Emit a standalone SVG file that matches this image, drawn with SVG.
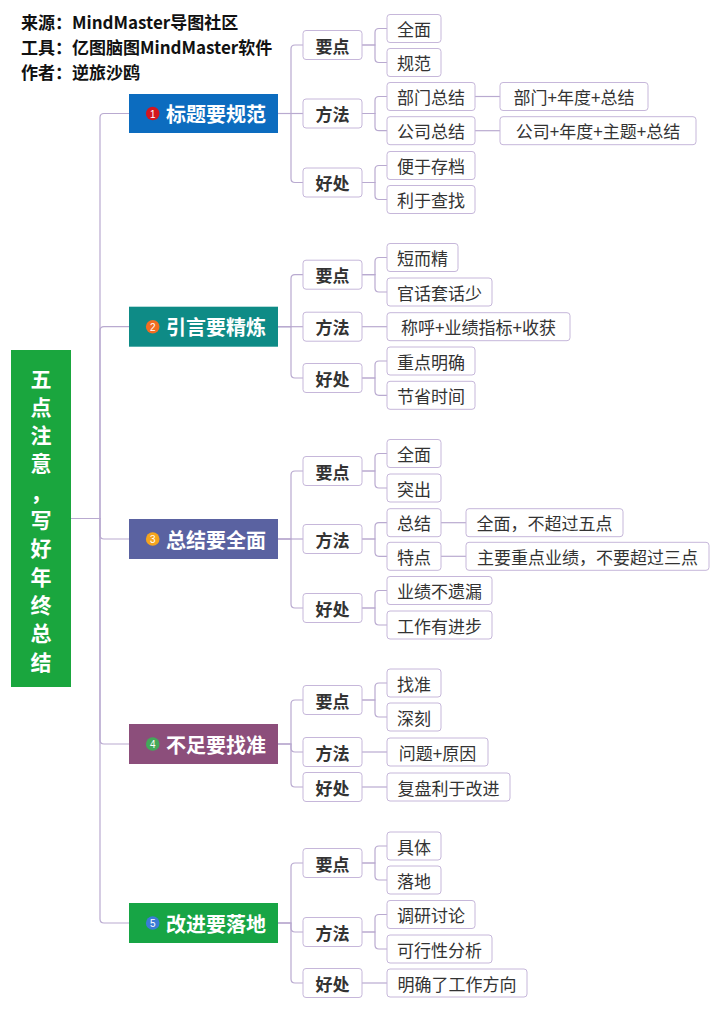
<svg xmlns="http://www.w3.org/2000/svg" width="720" height="1012" viewBox="0 0 720 1012">
<style>
text{font-family:"Noto Sans CJK SC","Noto Sans",sans-serif;dominant-baseline:central}
.hdr{font-size:17px;font-weight:bold;fill:#111}
.root{font-size:21px;font-weight:bold;fill:#fff;text-anchor:middle}
.main text.t{font-size:20px;font-weight:bold;fill:#fff}
.ic{font-size:10px;fill:#fff;text-anchor:middle;font-family:"Liberation Sans",sans-serif}
.l2 rect,.leaf rect{fill:#fff;stroke:#c6b7da;stroke-width:1}
.l2 text{font-size:17px;font-weight:bold;fill:#333;text-anchor:middle}
.leaf text{font-size:17px;fill:#333;text-anchor:middle}
#connectors path{fill:none;stroke:#b9aad0;stroke-width:1.2}
</style>
<rect width="720" height="1012" fill="#fff"/>
<g id="header">
<text class="hdr" x="21" y="21.5">来源：MindMaster导图社区</text>
<text class="hdr" x="21" y="46.5">工具：亿图脑图MindMaster软件</text>
<text class="hdr" x="21" y="71">作者：逆旅沙鸥</text>
</g>
<g id="connectors">
<path d="M71 518.5H100V117.5Q100 113.5 104 113.5H129"/>
<path d="M71 518.5H100V330.7Q100 326.7 104 326.7H129"/>
<path d="M71 518.5H100V535Q100 539 104 539H129"/>
<path d="M71 518.5H100V740Q100 744 104 744H129"/>
<path d="M71 518.5H100V919Q100 923 104 923H129"/>
<path d="M278 113.5H291V49Q291 45 295 45H303"/>
<path d="M278 113.5H303"/>
<path d="M278 113.5H291V178.5Q291 182.5 295 182.5H303"/>
<path d="M362 45H375V32.5Q375 28.5 379 28.5H387"/>
<path d="M362 45H375V58.5Q375 62.5 379 62.5H387"/>
<path d="M362 113.5H375V100.5Q375 96.5 379 96.5H387"/>
<path d="M362 113.5H375V126.7Q375 130.7 379 130.7H387"/>
<path d="M362 182.5H375V169.5Q375 165.5 379 165.5H387"/>
<path d="M362 182.5H375V195.5Q375 199.5 379 199.5H387"/>
<path d="M475 96.5H500"/>
<path d="M475 130.7H500"/>
<path d="M278 326.7H291V278.7Q291 274.7 295 274.7H303"/>
<path d="M278 326.7H303"/>
<path d="M278 326.7H291V374Q291 378 295 378H303"/>
<path d="M362 274.7H375V261.5Q375 257.5 379 257.5H387"/>
<path d="M362 274.7H375V288Q375 292 379 292H387"/>
<path d="M362 326.7H387"/>
<path d="M362 378H375V365Q375 361 379 361H387"/>
<path d="M362 378H375V391.3Q375 395.3 379 395.3H387"/>
<path d="M278 539H291V475Q291 471 295 471H303"/>
<path d="M278 539H303"/>
<path d="M278 539H291V604Q291 608 295 608H303"/>
<path d="M362 471H375V457.5Q375 453.5 379 453.5H387"/>
<path d="M362 471H375V484Q375 488 379 488H387"/>
<path d="M362 539H375V526.7Q375 522.7 379 522.7H387"/>
<path d="M362 539H375V552.3Q375 556.3 379 556.3H387"/>
<path d="M362 608H375V594.5Q375 590.5 379 590.5H387"/>
<path d="M362 608H375V621Q375 625 379 625H387"/>
<path d="M441 522.7H466"/>
<path d="M441 556.3H466"/>
<path d="M278 744H291V704Q291 700 295 700H303"/>
<path d="M278 744H291V748Q291 752 295 752H303"/>
<path d="M278 744H291V783Q291 787 295 787H303"/>
<path d="M362 700H375V687Q375 683 379 683H387"/>
<path d="M362 700H375V713Q375 717 379 717H387"/>
<path d="M362 752H387"/>
<path d="M362 787H387"/>
<path d="M278 923H291V867Q291 863 295 863H303"/>
<path d="M278 923H291V928Q291 932 295 932H303"/>
<path d="M278 923H291V979Q291 983 295 983H303"/>
<path d="M362 863H375V850Q375 846 379 846H387"/>
<path d="M362 863H375V876Q375 880 379 880H387"/>
<path d="M362 932H375V918.5Q375 914.5 379 914.5H387"/>
<path d="M362 932H375V945Q375 949 379 949H387"/>
<path d="M362 983H387"/>
</g>
<g id="root">
<rect x="11" y="350" width="60" height="337" fill="#1aa63e"/>
<text class="root"><tspan x="41" y="377.5">五</tspan><tspan x="41" y="406">点</tspan><tspan x="41" y="434">注</tspan><tspan x="41" y="462.3">意</tspan><tspan x="41" y="491">，</tspan><tspan x="41" y="519">写</tspan><tspan x="41" y="547.3">好</tspan><tspan x="41" y="575.7">年</tspan><tspan x="41" y="603.7">终</tspan><tspan x="41" y="631.7">总</tspan><tspan x="41" y="660.5">结</tspan></text>
</g>
<g id="m1" class="main"><rect x="129" y="94" width="149" height="39" fill="#0c6cbf"/><circle cx="152.7" cy="113.5" r="6.8" fill="#d3161f"/><text class="ic" x="152.7" y="114">1</text><text class="t" x="166" y="113.5">标题要规范</text></g>
<g id="m2" class="main"><rect x="129" y="306.7" width="149" height="40" fill="#0e8b86"/><circle cx="152.7" cy="326.7" r="6.8" fill="#f26d21"/><text class="ic" x="152.7" y="327.2">2</text><text class="t" x="166" y="326.7">引言要精炼</text></g>
<g id="m3" class="main"><rect x="129" y="519" width="149" height="40" fill="#5a62a1"/><circle cx="152.7" cy="539" r="6.8" fill="#f5a41d"/><text class="ic" x="152.7" y="539.5">3</text><text class="t" x="166" y="539">总结要全面</text></g>
<g id="m4" class="main"><rect x="129" y="724" width="149" height="40" fill="#8c4e7b"/><circle cx="152.7" cy="744" r="6.8" fill="#43a85a"/><text class="ic" x="152.7" y="744.5">4</text><text class="t" x="166" y="744">不足要找准</text></g>
<g id="m5" class="main"><rect x="129" y="903" width="149" height="40" fill="#17a545"/><circle cx="152.7" cy="923" r="6.8" fill="#3a7bd6"/><text class="ic" x="152.7" y="923.5">5</text><text class="t" x="166" y="923">改进要落地</text></g>
<g id="s1-k" class="l2"><rect x="303" y="30.5" width="59" height="29" rx="3"/><text x="332.5" y="45">要点</text></g>
<g id="s1-f" class="l2"><rect x="303" y="99" width="59" height="29" rx="3"/><text x="332.5" y="113.5">方法</text></g>
<g id="s1-h" class="l2"><rect x="303" y="168" width="59" height="29" rx="3"/><text x="332.5" y="182.5">好处</text></g>
<g id="s2-k" class="l2"><rect x="303" y="260.2" width="59" height="29" rx="3"/><text x="332.5" y="274.7">要点</text></g>
<g id="s2-f" class="l2"><rect x="303" y="312.2" width="59" height="29" rx="3"/><text x="332.5" y="326.7">方法</text></g>
<g id="s2-h" class="l2"><rect x="303" y="363.5" width="59" height="29" rx="3"/><text x="332.5" y="378">好处</text></g>
<g id="s3-k" class="l2"><rect x="303" y="456.5" width="59" height="29" rx="3"/><text x="332.5" y="471">要点</text></g>
<g id="s3-f" class="l2"><rect x="303" y="524.5" width="59" height="29" rx="3"/><text x="332.5" y="539">方法</text></g>
<g id="s3-h" class="l2"><rect x="303" y="593.5" width="59" height="29" rx="3"/><text x="332.5" y="608">好处</text></g>
<g id="s4-k" class="l2"><rect x="303" y="685.5" width="59" height="29" rx="3"/><text x="332.5" y="700">要点</text></g>
<g id="s4-f" class="l2"><rect x="303" y="737.5" width="59" height="29" rx="3"/><text x="332.5" y="752">方法</text></g>
<g id="s4-h" class="l2"><rect x="303" y="772.5" width="59" height="29" rx="3"/><text x="332.5" y="787">好处</text></g>
<g id="s5-k" class="l2"><rect x="303" y="848.5" width="59" height="29" rx="3"/><text x="332.5" y="863">要点</text></g>
<g id="s5-f" class="l2"><rect x="303" y="917.5" width="59" height="29" rx="3"/><text x="332.5" y="932">方法</text></g>
<g id="s5-h" class="l2"><rect x="303" y="968.5" width="59" height="29" rx="3"/><text x="332.5" y="983">好处</text></g>
<g id="s1-l1" class="leaf"><rect x="387" y="14.5" width="54" height="28" rx="3"/><text x="414" y="28.5">全面</text></g>
<g id="s1-l2" class="leaf"><rect x="387" y="48.5" width="54" height="28" rx="3"/><text x="414" y="62.5">规范</text></g>
<g id="s1-l3" class="leaf"><rect x="387" y="82.5" width="88" height="28" rx="3"/><text x="431" y="96.5">部门总结</text></g>
<g id="s1-l4" class="leaf"><rect x="387" y="116.7" width="88" height="28" rx="3"/><text x="431" y="130.7">公司总结</text></g>
<g id="s1-l5" class="leaf"><rect x="387" y="151.5" width="88" height="28" rx="3"/><text x="431" y="165.5">便于存档</text></g>
<g id="s1-l6" class="leaf"><rect x="387" y="185.5" width="88" height="28" rx="3"/><text x="431" y="199.5">利于查找</text></g>
<g id="s1-l7" class="leaf"><rect x="500" y="82.5" width="148" height="28" rx="3"/><text x="574" y="96.5">部门+年度+总结</text></g>
<g id="s1-l8" class="leaf"><rect x="500" y="116.7" width="196" height="28" rx="3"/><text x="598" y="130.7">公司+年度+主题+总结</text></g>
<g id="s2-l1" class="leaf"><rect x="387" y="243.5" width="71" height="28" rx="3"/><text x="422.5" y="257.5">短而精</text></g>
<g id="s2-l2" class="leaf"><rect x="387" y="278" width="105" height="28" rx="3"/><text x="439.5" y="292">官话套话少</text></g>
<g id="s2-l3" class="leaf"><rect x="387" y="312.7" width="183" height="28" rx="3"/><text x="478.5" y="326.7">称呼+业绩指标+收获</text></g>
<g id="s2-l4" class="leaf"><rect x="387" y="347" width="88" height="28" rx="3"/><text x="431" y="361">重点明确</text></g>
<g id="s2-l5" class="leaf"><rect x="387" y="381.3" width="88" height="28" rx="3"/><text x="431" y="395.3">节省时间</text></g>
<g id="s3-l1" class="leaf"><rect x="387" y="439.5" width="54" height="28" rx="3"/><text x="414" y="453.5">全面</text></g>
<g id="s3-l2" class="leaf"><rect x="387" y="474" width="54" height="28" rx="3"/><text x="414" y="488">突出</text></g>
<g id="s3-l3" class="leaf"><rect x="387" y="508.7" width="54" height="28" rx="3"/><text x="414" y="522.7">总结</text></g>
<g id="s3-l4" class="leaf"><rect x="387" y="542.3" width="54" height="28" rx="3"/><text x="414" y="556.3">特点</text></g>
<g id="s3-l5" class="leaf"><rect x="387" y="576.5" width="105" height="28" rx="3"/><text x="439.5" y="590.5">业绩不遗漏</text></g>
<g id="s3-l6" class="leaf"><rect x="387" y="611" width="105" height="28" rx="3"/><text x="439.5" y="625">工作有进步</text></g>
<g id="s3-l7" class="leaf"><rect x="466" y="508.7" width="157" height="28" rx="3"/><text x="544.5" y="522.7">全面，不超过五点</text></g>
<g id="s3-l8" class="leaf"><rect x="466" y="542.3" width="243" height="28" rx="3"/><text x="587.5" y="556.3">主要重点业绩，不要超过三点</text></g>
<g id="s4-l1" class="leaf"><rect x="387" y="669" width="54" height="28" rx="3"/><text x="414" y="683">找准</text></g>
<g id="s4-l2" class="leaf"><rect x="387" y="703" width="54" height="28" rx="3"/><text x="414" y="717">深刻</text></g>
<g id="s4-l3" class="leaf"><rect x="387" y="738" width="101" height="28" rx="3"/><text x="437.5" y="752">问题+原因</text></g>
<g id="s4-l4" class="leaf"><rect x="387" y="773" width="123" height="28" rx="3"/><text x="448.5" y="787">复盘利于改进</text></g>
<g id="s5-l1" class="leaf"><rect x="387" y="832" width="54" height="28" rx="3"/><text x="414" y="846">具体</text></g>
<g id="s5-l2" class="leaf"><rect x="387" y="866" width="54" height="28" rx="3"/><text x="414" y="880">落地</text></g>
<g id="s5-l3" class="leaf"><rect x="387" y="900.5" width="88" height="28" rx="3"/><text x="431" y="914.5">调研讨论</text></g>
<g id="s5-l4" class="leaf"><rect x="387" y="935" width="105" height="28" rx="3"/><text x="439.5" y="949">可行性分析</text></g>
<g id="s5-l5" class="leaf"><rect x="387" y="969" width="140" height="28" rx="3"/><text x="457" y="983">明确了工作方向</text></g>
</svg>
